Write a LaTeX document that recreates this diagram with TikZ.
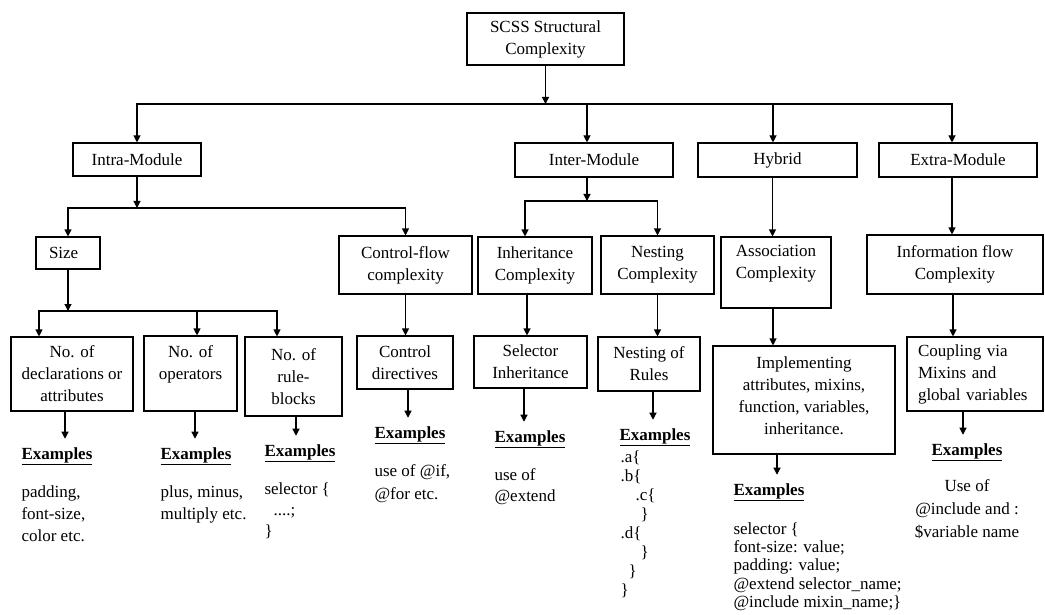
\documentclass[tikz,border=0pt]{standalone}
\usepackage{fontspec}
\setmainfont{Liberation Serif}
\usetikzlibrary{arrows.meta}

\begin{document}
\begin{tikzpicture}[x=1pt,y=-1pt,->,>={Triangle[length=7pt,width=7pt]},line width=1.1pt,
  main node/.style={draw,rectangle,align=center,inner sep=3pt,font=\fontsize{17}{22}\selectfont},
  ex head/.style={anchor=west,inner xsep=0pt,inner ysep=8pt,font=\fontsize{17}{22}\selectfont\bfseries},
  ex text/.style={anchor=north west,align=left,inner sep=0pt,font=\fontsize{17}{22}\selectfont},
  bus/.style={to path={-| (\tikztotarget)}}]
  \useasboundingbox (0,0) rectangle (1045,615);

  \node[main node, minimum width=157, minimum height=52] (root) at (545.5,39) {SCSS Structural\\Complexity};
  \node[main node, minimum width=128, minimum height=33] (intra) at (137,159.5) {Intra-Module};
  \node[main node, minimum width=158, minimum height=34] (inter) at (594,160) {Inter-Module};
  \node[main node, minimum width=159, minimum height=34] (hybrid) at (777.5,160) {Hybrid};
  \node[main node, minimum width=158, minimum height=34] (extra) at (958,160) {Extra-Module};

  \node[main node, align=left, text width=38, inner xsep=13pt, minimum height=32] (size) at (68,253) {Size};
  \node[main node, minimum width=133, minimum height=58] (ctrl) at (405.5,265) {Control-flow\\complexity};
  \node[main node, minimum width=114, minimum height=57] (inh) at (535,265.5) {Inheritance\\Complexity};
  \node[main node, minimum width=113, minimum height=58] (nest) at (657.5,265) {Nesting\\Complexity};
  \node[main node, minimum width=110, minimum height=71] (assoc) at (776,272.5) {Association\\Complexity\\\mbox{}};
  \node[main node, minimum width=176, minimum height=59] (info) at (955,264.5) {Information flow\\Complexity};

  \node[main node, minimum width=122, minimum height=74] (decl) at (72,374) {No. of\\declarations or\\attributes};
  \node[main node, minimum width=93, minimum height=75] (ops) at (190.5,373.5) {No. of\\operators\\\mbox{}};
  \node[main node, minimum width=97, minimum height=79] (rules) at (293.5,376.5) {No. of\\rule-\\blocks};
  \node[main node, minimum width=96, minimum height=53] (cdir) at (405,362.5) {Control\\directives};
  \node[main node, minimum width=113, minimum height=52] (sel) at (530.5,362) {Selector\\Inheritance};
  \node[main node, minimum width=102, minimum height=54] (nrules) at (649,364) {Nesting of\\Rules};
  \node[main node, minimum width=182, minimum height=108] (impl) at (804,400) {Implementing\\attributes, mixins,\\function, variables,\\inheritance.\\[-14pt]\mbox{}};
  \node[main node, align=left, text width=114, inner xsep=11pt, minimum height=74] (coup) at (975,374) {Coupling via\\Mixins and\\global variables};

  \node[ex head] (ex1) at (21,456) {\underline{Examples}};
  \node[ex head] (ex2) at (160,456) {\underline{Examples}};
  \node[ex head] (ex3) at (264,453) {\underline{Examples}};
  \node[ex head] (ex4) at (374,435) {\underline{Examples}};
  \node[ex head] (ex5) at (494,439) {\underline{Examples}};
  \node[ex head] (ex6) at (619,437) {\underline{Examples}};
  \node[ex head] (ex7) at (733,492) {\underline{Examples}};
  \node[ex head] (ex8) at (931,452) {\underline{Examples}};

  \node[ex text] (tx1) at (21,485) {padding,\\font-size,\\color etc.};
  \node[ex text] (tx2) at (160,485) {plus, minus,\\multiply etc.};
  \node[ex text, font=\fontsize{17}{21}\selectfont] (tx3) at (264,482) {selector \{\\\hspace*{9pt}....;\\\}};
  \node[ex text, font=\fontsize{17}{23}\selectfont] (tx4) at (374,464) {use of @if,\\@for etc.};
  \node[ex text, font=\fontsize{17}{21}\selectfont] (tx5) at (494,468) {use of\\@extend};
  \node[ex text, font=\fontsize{17}{19}\selectfont] (tx6) at (620,450) {.a\{\\.b\{\\\hspace*{15pt}.c\{\\\hspace*{20pt}\}\\.d\{\\\hspace*{20pt}\}\\\hspace*{8pt}\}\\\}};
  \node[ex text, font=\fontsize{17}{18.3}\selectfont] (tx7) at (733,522) {selector \{\\font-size: value;\\padding: value;\\@extend selector\_name;\\@include mixin\_name;\}};
  \node[ex text, anchor=north, align=center, font=\fontsize{17}{23}\selectfont] (tx8) at (967,479) {Use of\\@include and :\\\$variable name};

  \coordinate (j0) at (545.5,104);
  \coordinate (j1) at (137,208);
  \coordinate (j2) at (68,311);
  \coordinate (j3) at (587,201);

  \path
    (root) edge (j0)
    (j0) edge[bus] (intra)
    (j0) edge[bus] ([xshift=-7]inter.north)
    (j0) edge[bus] ([xshift=-4.5]hybrid.north)
    (j0) edge[bus] ([xshift=-6]extra.north)

    (intra) edge (j1)
    (j1) edge[bus] (size)
    (j1) edge[bus] (ctrl)
    (size) edge (j2)
    (j2) edge[bus] ([xshift=-33]decl.north)
    (j2) edge[bus] ([xshift=6.5]ops.north)
    (j2) edge[bus] ([xshift=-16.5]rules.north)
    (ctrl.south) edge (ctrl.south |- cdir.north)

    ([xshift=-7]inter.south) edge (j3)
    (j3) edge[bus] ([xshift=-10]inh.north)
    (j3) edge[bus] (nest)
    ([xshift=-8]inh.south) edge ([xshift=-8]inh.south |- sel.north)
    (nest.south) edge (nest.south |- nrules.north)

    ([xshift=-5]hybrid.south) edge ([xshift=-5]hybrid.south |- assoc.north)
    ([xshift=-3]assoc.south) edge ([xshift=-3]assoc.south |- impl.north)
    ([xshift=-6]extra.south) edge ([xshift=-6]extra.south |- info.north)
    ([xshift=-2]info.south) edge ([xshift=-2]info.south |- coup.north)
  ;

  \path
    ([xshift=-7]decl.south) edge ([xshift=-7]decl.south |- ex1.north)
    ([xshift=4.5]ops.south) edge ([xshift=4.5]ops.south |- ex2.north)
    ([xshift=2.5]rules.south) edge ([xshift=2.5]rules.south |- ex3.north)
    ([xshift=3]cdir.south) edge ([xshift=3]cdir.south |- ex4.north)
    ([xshift=-6.5]sel.south) edge ([xshift=-6.5]sel.south |- ex5.north)
    ([xshift=4]nrules.south) edge ([xshift=4]nrules.south |- ex6.north)
    ([xshift=-27]impl.south) edge ([xshift=-27]impl.south |- ex7.north)
    ([xshift=-12]coup.south) edge ([xshift=-12]coup.south |- ex8.north)
  ;

\end{tikzpicture}
\end{document}
